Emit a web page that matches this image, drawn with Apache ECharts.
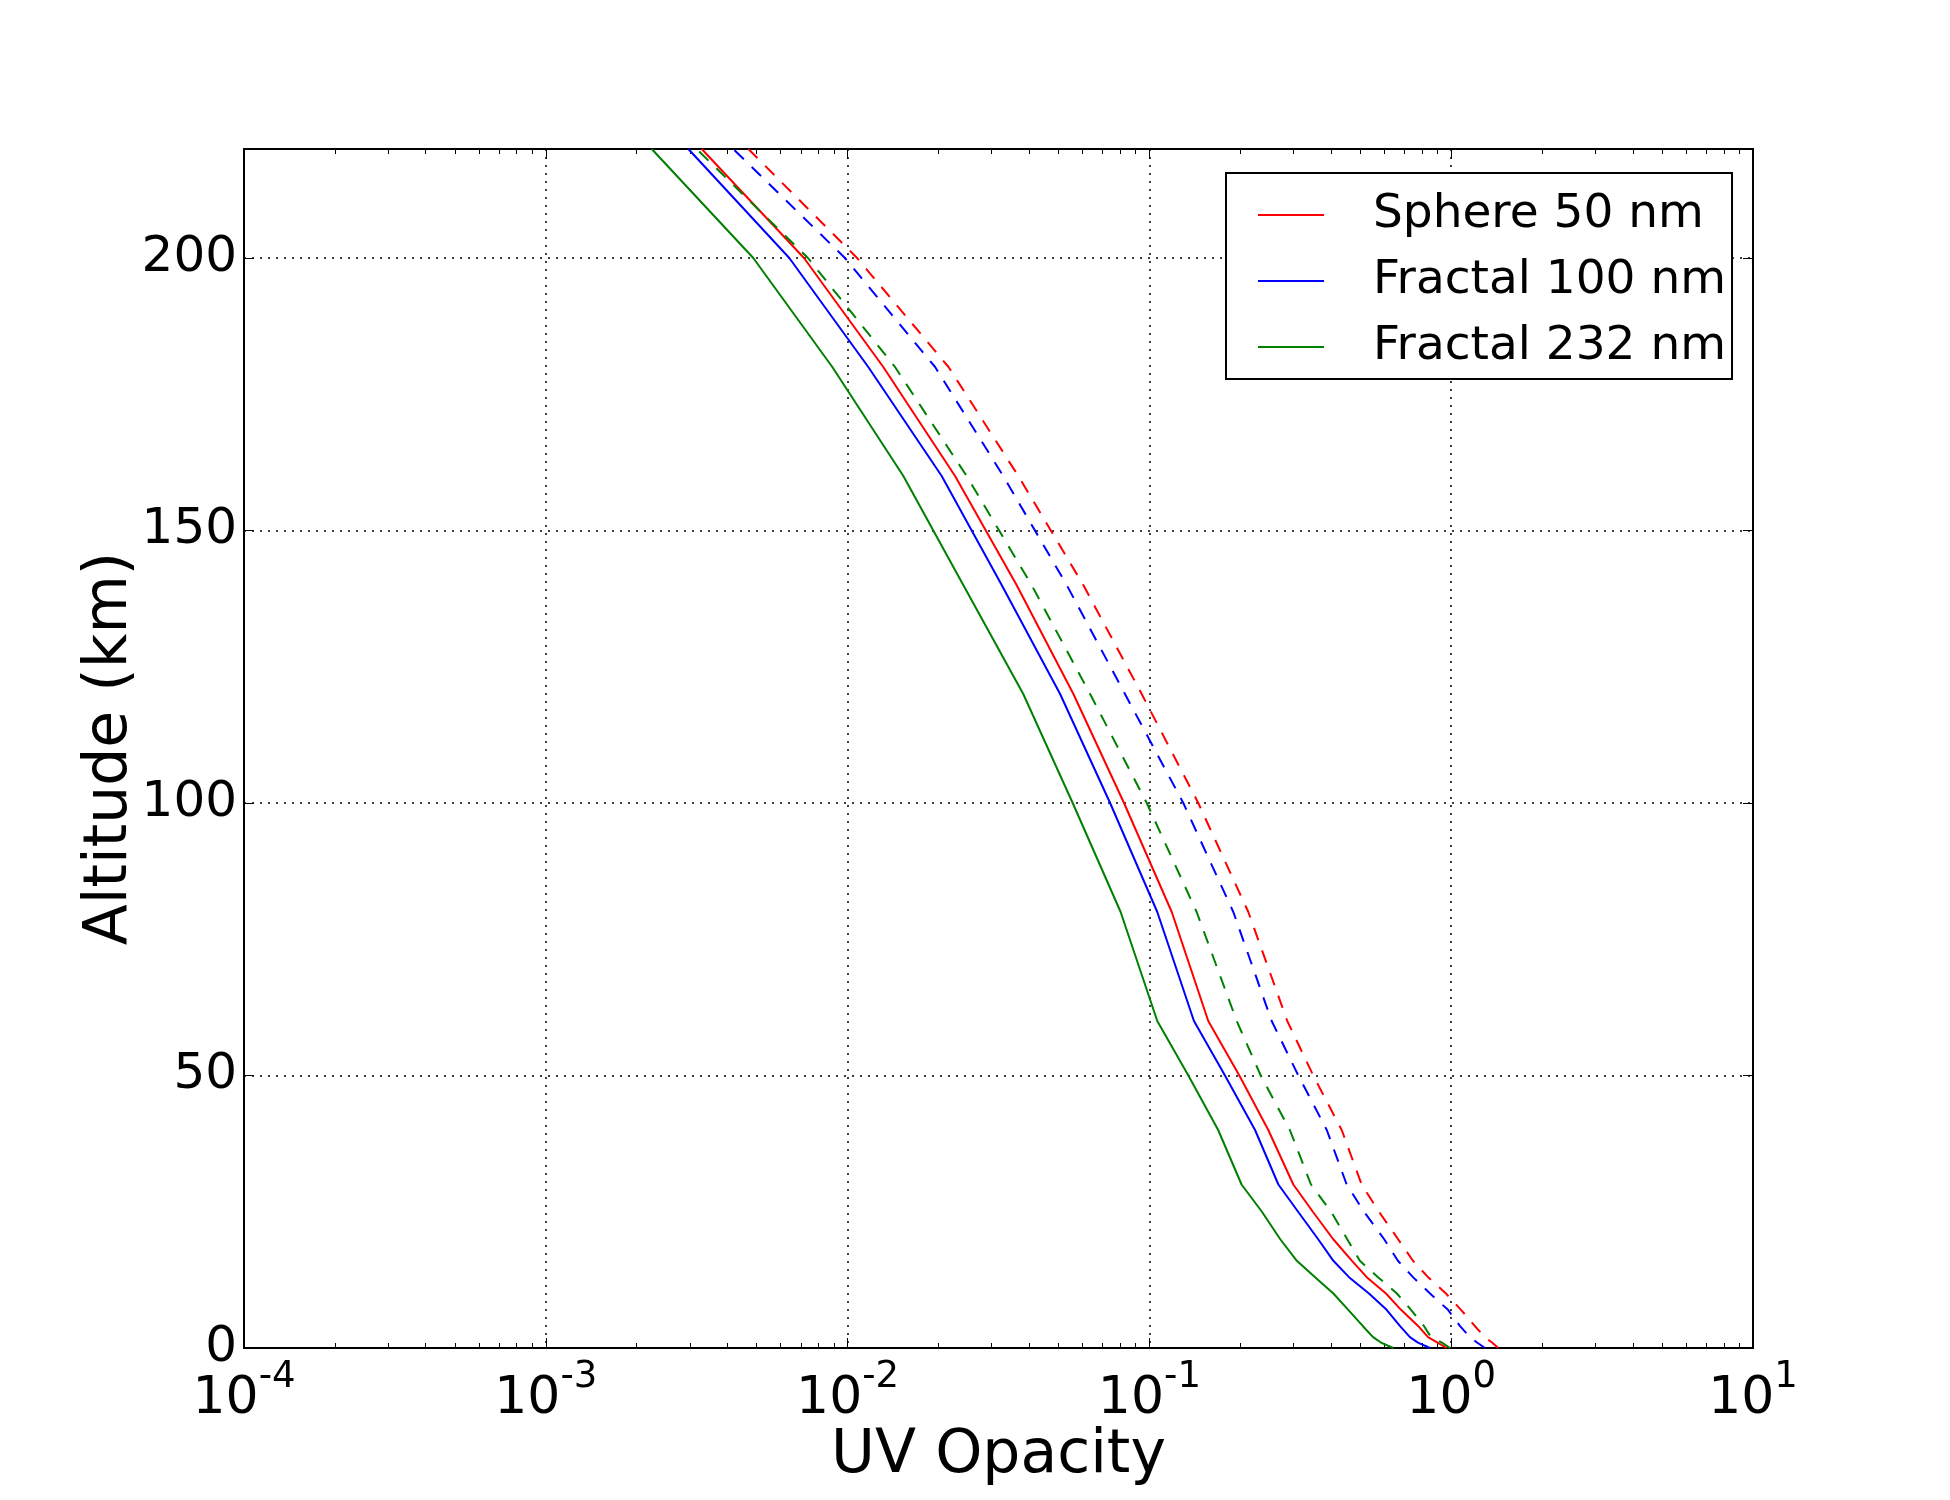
<!DOCTYPE html>
<html><head><meta charset="utf-8">
<script src="https://cdn.jsdelivr.net/npm/echarts@6/dist/echarts.min.js"></script>
<style>html,body{margin:0;padding:0;background:#fff}#chart{width:1950px;height:1500px}</style>
</head><body><div id="chart"></div>
<script>
// Altitude (km) sample points
const altitudes = [0, 1, 2, 4, 7, 10, 13, 16, 20, 25, 30, 40, 50, 60, 80, 100, 120, 140, 160, 180, 200, 220];

// Solid curves
const sphere50Solid   = [0.966, 0.901, 0.838, 0.778, 0.682, 0.608, 0.525, 0.469, 0.406, 0.348, 0.2998, 0.2477, 0.1986, 0.1567, 0.1186, 0.0824, 0.0560, 0.0363, 0.0227, 0.01313, 0.00717, 0.003286];
const fractal100Solid = [0.851, 0.776, 0.730, 0.677, 0.611, 0.534, 0.4585, 0.407, 0.362, 0.311, 0.2675, 0.2239, 0.1780, 0.1405, 0.1062, 0.0741, 0.0506, 0.0324, 0.0205, 0.01171, 0.00641, 0.002967];
const fractal232Solid = [0.643, 0.585, 0.551, 0.510, 0.456, 0.407, 0.354, 0.308, 0.271, 0.236, 0.202, 0.169, 0.1346, 0.1062, 0.0803, 0.0557, 0.0382, 0.02417, 0.01530, 0.00890, 0.00487, 0.002244];

// Dashed curves
const sphere50Dashed   = [1.432, 1.365, 1.294, 1.199, 1.078, 0.961, 0.838, 0.747, 0.666, 0.5765, 0.505, 0.4337, 0.349, 0.2863, 0.2127, 0.1452, 0.0943, 0.0604, 0.0368, 0.0216, 0.01075, 0.00469];
const fractal100Dashed = [1.294, 1.218, 1.154, 1.070, 0.976, 0.851, 0.747, 0.666, 0.599, 0.514, 0.4505, 0.387, 0.3114, 0.2542, 0.1897, 0.1295, 0.0830, 0.0532, 0.0328, 0.0195, 0.0098, 0.00418];
const fractal232Dashed = [0.991, 0.932, 0.857, 0.813, 0.736, 0.661, 0.572, 0.498, 0.452, 0.400, 0.343, 0.292, 0.2338, 0.1947, 0.1434, 0.0980, 0.0636, 0.0407, 0.0248, 0.01436, 0.00739, 0.00316];

// Axis ticks
const xMajorTicks = [1e-4, 1e-3, 1e-2, 1e-1, 1, 10];
const xMinorMultipliers = [2, 3, 4, 5, 6, 7, 8, 9];
const yTicks = [0, 50, 100, 150, 200];

const xMinorTicks = [];
for (let i = 0; i < xMajorTicks.length - 1; i++) {
  xMinorMultipliers.forEach(m => xMinorTicks.push(+(m * xMajorTicks[i]).toPrecision(3)));
}

const FONT = 'DejaVu Sans';
const pairs = vals => vals.map((v, i) => [v, altitudes[i]]);

function lineSeries(name, vals, color, dashed) {
  return {
    name: name, type: 'line', data: pairs(vals),
    xAxisIndex: 0, yAxisIndex: 0,
    symbol: 'none', showSymbol: false, silent: true,
    lineStyle: { color: color, width: 2, type: dashed ? [13, 11] : 'solid' },
    itemStyle: { color: color },
    emphasis: { disabled: true }
  };
}

const baseX = {
  type: 'log', logBase: 10, min: 1e-4, max: 10, gridIndex: 0
};
const axisLineStyle = { show: true, onZero: false, lineStyle: { color: '#000', width: 2 } };

const chart = echarts.init(document.getElementById('chart'), null, { renderer: 'canvas' });
chart.setOption({
  animation: false,
  backgroundColor: '#fff',
  textStyle: { fontFamily: FONT },
  grid: { left: 244, right: 197, top: 149, bottom: 152, show: false, outerBoundsMode: 'none', containLabel: false },
  legend: {
    data: ['Sphere 50 nm', 'Fractal 100 nm', 'Fractal 232 nm'],
    orient: 'vertical', left: 1226, top: 173,
    padding: [14, 6, 4, 32],
    icon: 'rect',
    itemWidth: 66, itemHeight: 2, itemGap: 10,
    borderColor: '#000', borderWidth: 2, backgroundColor: '#fff',
    selectedMode: false,
    textStyle: { fontSize: 47, lineHeight: 56, color: '#000', fontFamily: FONT, padding: [0, 0, 0, 44] }
  },
  xAxis: [
    Object.assign({}, baseX, {
      position: 'bottom',
      axisLine: axisLineStyle,
      axisTick: { show: true, inside: true, length: 10, lineStyle: { color: '#000', width: 1 } },
      axisLabel: {
        show: true, margin: 11, color: '#000',
        formatter: function (v) { const e = Math.round(Math.log10(v)); return '{b|10}{s|' + e + '}'; },
        rich: {
          b: { fontSize: 52, lineHeight: 66, verticalAlign: 'bottom', fontFamily: FONT, color: '#000' },
          s: { fontSize: 37, lineHeight: 38, verticalAlign: 'top', fontFamily: FONT, color: '#000' }
        }
      },
      splitLine: { show: true, lineStyle: { color: '#000', width: 1.5, type: [2, 6] } },
      name: 'UV Opacity', nameLocation: 'middle', nameGap: 78, nameMoveOverlap: false,
      nameTextStyle: { fontSize: 60, color: '#000', fontFamily: FONT }
    }),
    Object.assign({}, baseX, {
      position: 'bottom',
      axisLine: { show: false, onZero: false },
      axisTick: { show: true, inside: true, length: 5, customValues: xMinorTicks, lineStyle: { color: '#000', width: 1 } },
      axisLabel: { show: false }, splitLine: { show: false }
    }),
    Object.assign({}, baseX, {
      position: 'top',
      axisLine: axisLineStyle,
      axisTick: { show: true, inside: true, length: 10, lineStyle: { color: '#000', width: 1 } },
      axisLabel: { show: false }, splitLine: { show: false }
    }),
    Object.assign({}, baseX, {
      position: 'top',
      axisLine: { show: false, onZero: false },
      axisTick: { show: true, inside: true, length: 5, customValues: xMinorTicks, lineStyle: { color: '#000', width: 1 } },
      axisLabel: { show: false }, splitLine: { show: false }
    })
  ],
  yAxis: [
    {
      type: 'value', min: 0, max: 220, interval: 50, position: 'left',
      axisLine: axisLineStyle,
      axisTick: { show: true, inside: true, length: 10, customValues: yTicks, lineStyle: { color: '#000', width: 1 } },
      axisLabel: { show: true, customValues: yTicks, margin: 7, fontSize: 50, color: '#000', fontFamily: FONT },
      splitLine: { show: true, lineStyle: { color: '#000', width: 1.5, type: [2, 6] } },
      name: 'Altitude (km)', nameLocation: 'middle', nameGap: 104, nameMoveOverlap: false,
      nameTextStyle: { fontSize: 60, color: '#000', fontFamily: FONT }
    },
    {
      type: 'value', min: 0, max: 220, interval: 50, position: 'right',
      axisLine: axisLineStyle,
      axisTick: { show: true, inside: true, length: 10, customValues: yTicks, lineStyle: { color: '#000', width: 1 } },
      axisLabel: { show: false }, splitLine: { show: false }
    }
  ],
  series: [
    lineSeries('Sphere 50 nm', sphere50Solid, '#ff0000', false),
    lineSeries('Fractal 100 nm', fractal100Solid, '#0000ff', false),
    lineSeries('Fractal 232 nm', fractal232Solid, '#008000', false),
    lineSeries('Sphere 50 nm (dashed)', sphere50Dashed, '#ff0000', true),
    lineSeries('Fractal 100 nm (dashed)', fractal100Dashed, '#0000ff', true),
    lineSeries('Fractal 232 nm (dashed)', fractal232Dashed, '#008000', true)
  ]
});
</script></body></html>
